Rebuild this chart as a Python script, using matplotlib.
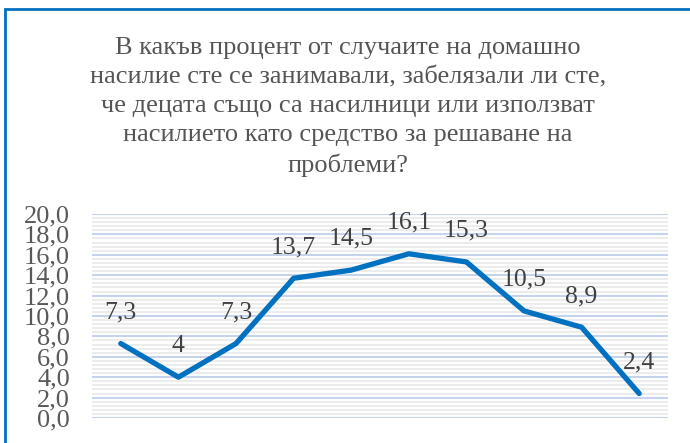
import matplotlib.pyplot as plt
from matplotlib.patches import Rectangle
import numpy as np

# Данни
categories = ['1', '2', '3', '4', '5', '6', '7', '8', '9', '10']
values = [7.3, 4.0, 7.3, 13.7, 14.5, 16.1, 15.3, 10.5, 8.9, 2.4]
labels = ['7,3', '4', '7,3', '13,7', '14,5', '16,1', '15,3', '10,5', '8,9', '2,4']
yticks = [0, 2, 4, 6, 8, 10, 12, 14, 16, 18, 20]

title = ('В какъв процент от случаите на домашно\n'
         'насилие сте се занимавали, забелязали ли сте,\n'
         'че децата също са насилници или използват\n'
         'насилието като средство за решаване на\n'
         'проблеми?')

plt.rcParams['font.family'] = ['Liberation Serif', 'DejaVu Serif']

fig = plt.figure(figsize=(6.9, 4.43), dpi=100)
ax = fig.add_axes([92 / 690, 1 - 418 / 443, 576 / 690, 204 / 443])

# рамка на диаграмата (дясната и долната страна са отрязани)
fig.patches.append(Rectangle((5 / 690, -0.1), 1.2, (443 - 9) / 443 + 0.1,
                             transform=fig.transFigure, fill=False,
                             edgecolor='#0070c0', linewidth=2))

x = np.arange(len(categories))
ax.plot(x, values, color='#0070c0', linewidth=3.8, solid_capstyle='round',
        solid_joinstyle='round', zorder=3)
for xi, v, lab in zip(x, values, labels):
    ax.annotate(lab, (xi, v), xytext=(0, 22.5), textcoords='offset points',
                ha='center', va='center', fontsize=18.5, color='#404040')

ax.set_xlim(-0.5, len(categories) - 0.5)
ax.set_ylim(0, 20)
ax.set_yticks(yticks)
ax.set_yticklabels([f'{t:.1f}'.replace('.', ',') for t in yticks])
ax.set_yticks(np.arange(0, 20.01, 0.4), minor=True)
ax.set_xticks([])
ax.tick_params(axis='y', which='both', length=0, pad=16, labelsize=19,
               labelcolor='#595959')
ax.grid(axis='y', which='minor', color='#ececec', linewidth=1.5, zorder=0)
ax.grid(axis='y', which='major', color='#c5d3ec', linewidth=1.5, zorder=1)
for s in ax.spines.values():
    s.set_visible(False)

fig.text(348 / 690, 1 - 107 / 443, title, ha='center', va='center',
         fontsize=19, color='#555555', linespacing=1.4)

fig.savefig('out.png', dpi=100)
